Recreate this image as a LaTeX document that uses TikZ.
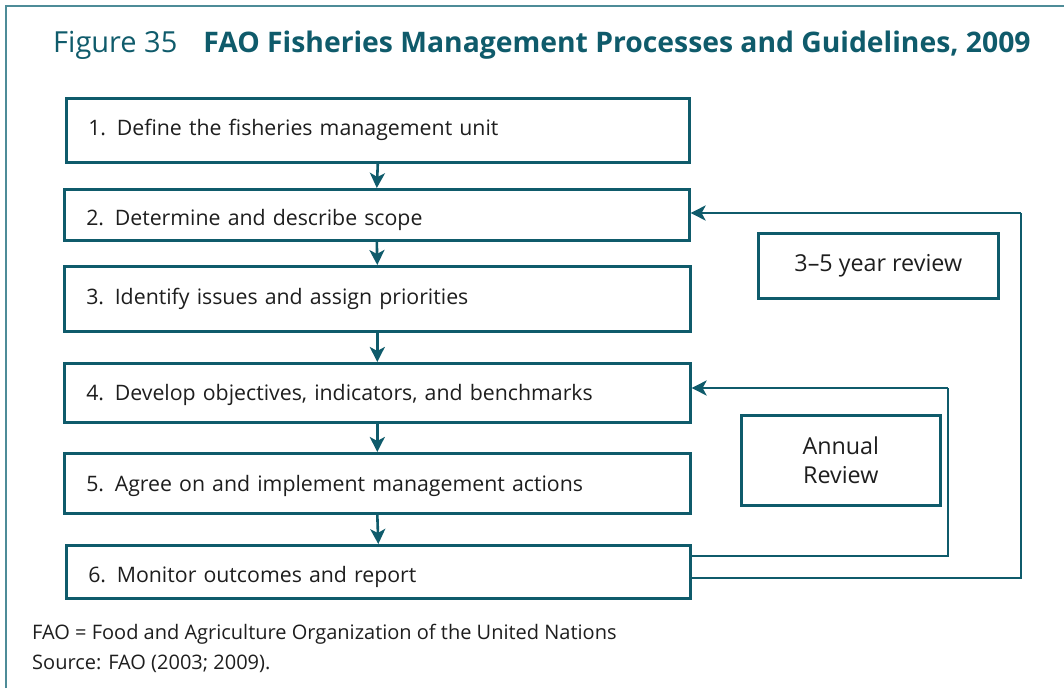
\documentclass[tikz,border=0pt]{standalone}
\usepackage{fontspec}
\setmainfont{Open Sans}
\usetikzlibrary{arrows.meta}
\definecolor{teal1}{HTML}{0F5B6B}
\definecolor{frame1}{HTML}{4E8C98}
\definecolor{txt}{HTML}{1E1E1E}
\begin{document}
\begin{tikzpicture}[x=1pt,y=-1pt,
  stepbox/.style={draw=teal1,line width=2.6pt,rectangle,anchor=north west,
    inner xsep=22pt,inner ysep=0pt,align=left,text=txt,text height=16pt,text depth=5pt,
    font=\fontsize{21.3}{25}\selectfont},
  revbox/.style={draw=teal1,line width=2.6pt,rectangle,anchor=north west,
    inner sep=0pt,align=center,text=txt,font=\fontsize{23.3}{29}\selectfont},
  arr/.style={draw=teal1,line width=2.6pt,-{Stealth[length=15pt,width=15pt,inset=4pt]}},
  loop/.style={draw=teal1,line width=2.6pt},
  note/.style={anchor=base west,inner sep=0pt,text=txt,font=\fontsize{20}{24}\selectfont}]
\useasboundingbox (0,0) rectangle (1064,688);
\fill[white] (0,0) rectangle (1064,688);
\draw[frame1,line width=2pt] (6,688) -- (6,6) -- (1064,6);
\node[anchor=base west,text=teal1,font=\fontsize{29}{34}\selectfont,inner sep=0pt] (title) at (53,52)
  {Figure 35\hspace{26pt}{\fontsize{28.3}{34}\selectfont\bfseries FAO Fisheries Management Processes and Guidelines, 2009}};
\node[stepbox,minimum width=623pt,minimum height=64pt,text width=579pt] (b1) at (65,97) {1. Define the fisheries management unit};
\node[stepbox,minimum width=625pt,minimum height=51pt,text width=581pt,text height=26pt] (b2) at (63,188) {2. Determine and describe scope};
\node[stepbox,minimum width=626pt,minimum height=65pt,text width=582pt] (b3) at (63,265) {3. Identify issues and assign priorities};
\node[stepbox,minimum width=626pt,minimum height=59pt,text width=582pt,text height=20pt] (b4) at (63,362) {4. Develop objectives, indicators, and benchmarks};
\node[stepbox,minimum width=626pt,minimum height=60pt,text width=582pt,text height=22pt] (b5) at (63,452) {5. Agree on and implement management actions};
\node[stepbox,minimum width=624pt,minimum height=53pt,text width=580pt,text height=26pt] (b6) at (65,544) {6. Monitor outcomes and report};
\node[revbox,minimum width=240pt,minimum height=65pt] (r1) at (757,232) {3--5 year review};
\node[revbox,minimum width=199pt,minimum height=90pt] (r2) at (740,414) {Annual\\Review};
\foreach \a/\b in {b1/b2,b2/b3,b3/b4,b4/b5,b5/b6}
  \draw[arr] (\a.south) -- (\b.north);
\coordinate (o1) at (1021,578);
\coordinate (o2) at (1021,213);
\coordinate (i1) at (948,556);
\coordinate (i2) at (948,388);
\draw[loop] (b6.east |- o1) -- (o1) -- (o2);
\draw[arr] (o2) -- (o2 -| b2.east);
\draw[loop] (b6.east |- i1) -- (i1) -- (i2);
\draw[arr] (i2) -- (i2 -| b4.east);
\node[note] (n1) at (32,639) {FAO = Food and Agriculture Organization of the United Nations};
\node[note] (n2) at (32,669) {Source: FAO (2003; 2009).};
\end{tikzpicture}
\end{document}
